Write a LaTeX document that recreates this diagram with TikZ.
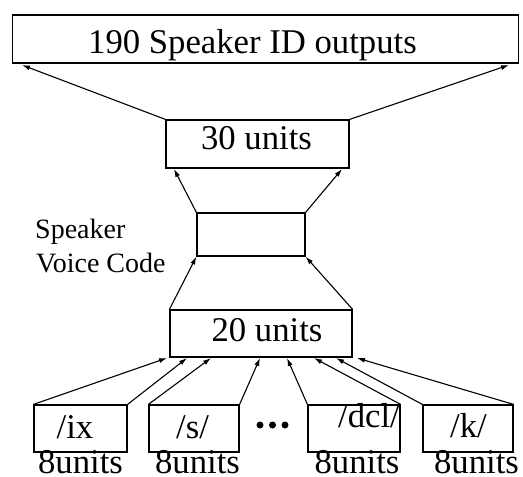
\documentclass[tikz,border=0pt]{standalone}
\usepackage{fontspec}
\setmainfont{Liberation Serif}
\usetikzlibrary{arrows.meta}
\begin{document}
\begin{tikzpicture}[x=1pt,y=-1pt,
 box/.style={draw,line width=1.2pt,inner sep=0pt,rectangle},
 lbl/.style={inner sep=0pt,anchor=base,font=\fontsize{34.7}{40}\selectfont},
 small/.style={inner sep=0pt,anchor=base west,font=\fontsize{28}{34}\selectfont},
 arr/.style={line width=1.1pt,-{Latex[length=8pt,width=5pt]}},
 dot/.style={circle,fill,inner sep=0pt,minimum size=7pt}]
\useasboundingbox (0,0) rectangle (523,477);
% boxes
\node[box,minimum width=506pt,minimum height=48pt] (out) at (265.5,39) {};
\node[lbl] (outt) at (252.5,53) {190 Speaker ID outputs};
\node[box,minimum width=183pt,minimum height=48pt] (h30) at (257.5,144) {};
\node[lbl] (h30t) at (256.5,149) {30 units};
\node[box,minimum width=108pt,minimum height=43pt] (code) at (251,234.5) {};
\node[box,minimum width=182pt,minimum height=47pt] (h20) at (261,333.5) {};
\node[lbl] (h20t) at (267,341) {20 units};
\node[small] (sp1) at (35,238) {Speaker};
\node[small] (sp2) at (36,272) {Voice Code};
% phone boxes
\node[box,minimum width=93pt,minimum height=47pt] (b1) at (80.5,428.5) {};
\node[box,minimum width=90pt,minimum height=47pt] (b2) at (194,428.5) {};
\node[box,minimum width=92pt,minimum height=47pt] (b3) at (354,428.5) {};
\node[box,minimum width=90pt,minimum height=47pt] (b4) at (468,428.5) {};
\node[lbl] (t1) at (75,438) {/ix};
\node[lbl] (t2) at (192.5,438) {/s/};
\node[lbl] (t3) at (369,427) {/dcl/};
\node[lbl] (t4) at (468.5,437) {/k/};
\node[lbl] (u1) at (80.5,473) {8units};
\node[lbl] (u2) at (197.5,473) {8units};
\node[lbl] (u3) at (357,473) {8units};
\node[lbl] (u4) at (476.5,473) {8units};
\node[dot] (d1) at (260,425) {};
\node[dot] (d2) at (272.5,425) {};
\node[dot] (d3) at (285,425) {};
% arrow targets
\coordinate (o1) at (22,65);
\coordinate (o2) at (509,65);
\coordinate (m1) at (174,169);
\coordinate (m2) at (342,169);
\coordinate (a1) at (167,358);
\coordinate (a2) at (187,358);
\coordinate (a3) at (211,358);
\coordinate (a4) at (260,358);
\coordinate (a5) at (287,358);
\coordinate (a6) at (314,358);
\coordinate (a7) at (336,358);
\coordinate (a8) at (357,358);
% connectors
\draw[arr] (h30.north west) -- (o1);
\draw[arr] (h30.north east) -- (o2);
\draw[arr] (code.north west) -- (m1);
\draw[arr] (code.north east) -- (m2);
\draw[arr] (h20.north west) -- (code.south west);
\draw[arr] (h20.north east) -- (code.south east);
\draw[arr] (b1.north west) -- (a1);
\draw[arr] (b1.north east) -- (a2);
\draw[arr] (b2.north west) -- (a3);
\draw[arr] (b2.north east) -- (a4);
\draw[arr] (b3.north west) -- (a5);
\draw[arr] (b3.north east) -- (a6);
\draw[arr] (b4.north west) -- (a7);
\draw[arr] (b4.north east) -- (a8);
\end{tikzpicture}
\end{document}
